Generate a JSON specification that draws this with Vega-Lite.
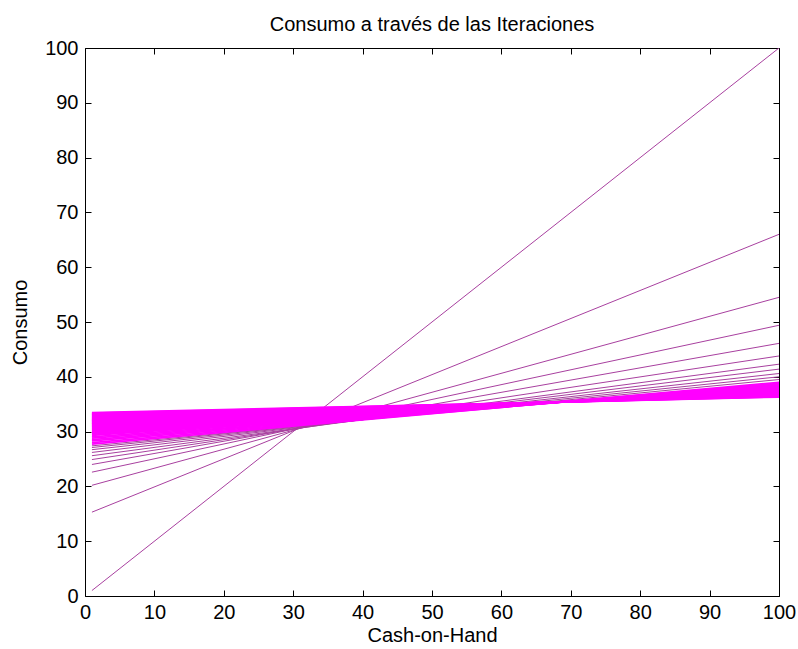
{
  "$schema": "https://vega.github.io/schema/vega-lite/v6.json",
  "width": 694,
  "height": 548,
  "autosize": "none",
  "padding": {"left": 85, "top": 48, "right": 19, "bottom": 53},
  "background": "white",
  "config": {
    "view": {"stroke": null},
    "axis": {
      "domainColor": "black", "domainWidth": 1,
      "tickColor": "black", "tickWidth": 1, "tickSize": -6,
      "labelColor": "black", "titleColor": "black",
      "labelFont": "Liberation Sans, Arial, sans-serif",
      "titleFont": "Liberation Sans, Arial, sans-serif",
      "labelFontSize": 20, "titleFontSize": 20, "titleFontWeight": "normal",
      "grid": false, "labelFlush": false, "labelOverlap": false
    }
  },
  "title": {
    "text": "Consumo a través de las Iteraciones",
    "font": "Liberation Sans, Arial, sans-serif",
    "fontSize": 20, "fontWeight": "normal", "color": "black",
    "anchor": "middle", "offset": 3
  },
  "data": {"values": [
    {"it": 1, "x": 1, "c": 1}, {"it": 1, "x": 100, "c": 100},
    {"it": 2, "x": 1, "c": 15.3}, {"it": 2, "x": 100, "c": 66.0},
    {"it": 3, "x": 1, "c": 20.2}, {"it": 3, "x": 100, "c": 54.5},
    {"it": 4, "x": 1, "c": 22.6}, {"it": 4, "x": 100, "c": 49.4},
    {"it": 5, "x": 1, "c": 24.0}, {"it": 5, "x": 100, "c": 46.1},
    {"it": 6, "x": 1, "c": 24.9}, {"it": 6, "x": 100, "c": 43.8},
    {"it": 7, "x": 1, "c": 25.6}, {"it": 7, "x": 100, "c": 42.3},
    {"it": 8, "x": 1, "c": 26.2}, {"it": 8, "x": 100, "c": 41.4},
    {"it": 9, "x": 1, "c": 26.7}, {"it": 9, "x": 100, "c": 40.6},
    {"it": 10, "x": 1, "c": 27.1}, {"it": 10, "x": 100, "c": 40.0},
    {"it": 11, "x": 1, "c": 27.4}, {"it": 11, "x": 100, "c": 39.5},
    {"it": 12, "x": 1, "c": 27.7}, {"it": 12, "x": 100, "c": 39.0},
    {"it": 13, "x": 1, "c": 28.0}, {"it": 13, "x": 100, "c": 38.8},
    {"it": 14, "x": 1, "c": 28.3}, {"it": 14, "x": 100, "c": 38.65},
    {"it": 15, "x": 1, "c": 28.55}, {"it": 15, "x": 100, "c": 38.55},
    {"it": 16, "x": 1, "c": 28.8}, {"it": 16, "x": 100, "c": 38.45},
    {"it": 17, "x": 1, "c": 29.05}, {"it": 17, "x": 100, "c": 38.35},
    {"it": 18, "x": 1, "c": 29.3}, {"it": 18, "x": 100, "c": 38.25},
    {"it": 19, "x": 1, "c": 29.5}, {"it": 19, "x": 100, "c": 38.15},
    {"it": 20, "x": 1, "c": 29.7}, {"it": 20, "x": 100, "c": 38.05},
    {"it": 21, "x": 1, "c": 29.9}, {"it": 21, "x": 100, "c": 37.97},
    {"it": 22, "x": 1, "c": 30.1}, {"it": 22, "x": 100, "c": 37.9},
    {"it": 23, "x": 1, "c": 30.25}, {"it": 23, "x": 100, "c": 37.83},
    {"it": 24, "x": 1, "c": 30.4}, {"it": 24, "x": 100, "c": 37.76},
    {"it": 25, "x": 1, "c": 30.55}, {"it": 25, "x": 100, "c": 37.69},
    {"it": 26, "x": 1, "c": 30.7}, {"it": 26, "x": 100, "c": 37.62},
    {"it": 27, "x": 1, "c": 30.85}, {"it": 27, "x": 100, "c": 37.55},
    {"it": 28, "x": 1, "c": 31.0}, {"it": 28, "x": 100, "c": 37.48},
    {"it": 29, "x": 1, "c": 31.1}, {"it": 29, "x": 100, "c": 37.43},
    {"it": 30, "x": 1, "c": 31.25}, {"it": 30, "x": 100, "c": 37.37},
    {"it": 31, "x": 1, "c": 31.35}, {"it": 31, "x": 100, "c": 37.32},
    {"it": 32, "x": 1, "c": 31.45}, {"it": 32, "x": 100, "c": 37.27},
    {"it": 33, "x": 1, "c": 31.55}, {"it": 33, "x": 100, "c": 37.22},
    {"it": 34, "x": 1, "c": 31.65}, {"it": 34, "x": 100, "c": 37.17},
    {"it": 35, "x": 1, "c": 31.75}, {"it": 35, "x": 100, "c": 37.12},
    {"it": 36, "x": 1, "c": 31.85}, {"it": 36, "x": 100, "c": 37.08},
    {"it": 37, "x": 1, "c": 31.95}, {"it": 37, "x": 100, "c": 37.03},
    {"it": 38, "x": 1, "c": 32.05}, {"it": 38, "x": 100, "c": 36.98},
    {"it": 39, "x": 1, "c": 32.15}, {"it": 39, "x": 100, "c": 36.93},
    {"it": 40, "x": 1, "c": 32.25}, {"it": 40, "x": 100, "c": 36.88},
    {"it": 41, "x": 1, "c": 32.35}, {"it": 41, "x": 100, "c": 36.83},
    {"it": 42, "x": 1, "c": 32.45}, {"it": 42, "x": 100, "c": 36.78},
    {"it": 43, "x": 1, "c": 32.55}, {"it": 43, "x": 100, "c": 36.74},
    {"it": 44, "x": 1, "c": 32.65}, {"it": 44, "x": 100, "c": 36.69},
    {"it": 45, "x": 1, "c": 32.75}, {"it": 45, "x": 100, "c": 36.64},
    {"it": 46, "x": 1, "c": 32.85}, {"it": 46, "x": 100, "c": 36.59},
    {"it": 47, "x": 1, "c": 32.95}, {"it": 47, "x": 100, "c": 36.54},
    {"it": 48, "x": 1, "c": 33.05}, {"it": 48, "x": 100, "c": 36.5},
    {"it": 49, "x": 1, "c": 33.15}, {"it": 49, "x": 100, "c": 36.45},
    {"it": 50, "x": 1, "c": 33.25}, {"it": 50, "x": 100, "c": 36.4},
    {"it": 51, "x": 1, "c": 33.35}, {"it": 51, "x": 100, "c": 36.35},
    {"it": 52, "x": 1, "c": 33.45}, {"it": 52, "x": 100, "c": 36.3}
  ]},
  "resolve": {"axis": {"x": "independent", "y": "independent"}},
  "layer": [
    {
      "mark": {"type": "line", "clip": true},
      "encoding": {
        "x": {"field": "x", "type": "quantitative",
              "scale": {"domain": [0, 100], "nice": false},
              "axis": {"orient": "bottom", "values": [0,10,20,30,40,50,60,70,80,90,100],
                       "title": "Cash-on-Hand", "labelPadding": 12, "titlePadding": 3}},
        "y": {"field": "c", "type": "quantitative",
              "scale": {"domain": [0, 100], "nice": false},
              "axis": {"orient": "left", "values": [0,10,20,30,40,50,60,70,80,90,100],
                       "title": "Consumo", "labelPadding": 13, "titlePadding": 14}},
        "detail": {"field": "it", "type": "quantitative"},
        "color": {"condition": {"test": "datum.it >= 12", "value": "#ff00ff"}, "value": "#a8409f"},
        "strokeWidth": {"condition": {"test": "datum.it >= 12", "value": 1.8}, "value": 1}
      }
    },
    {
      "mark": {"type": "line", "opacity": 0},
      "encoding": {
        "x": {"field": "x", "type": "quantitative",
              "axis": {"orient": "top", "values": [0,10,20,30,40,50,60,70,80,90,100],
                       "labels": false, "title": null}},
        "y": {"field": "c", "type": "quantitative",
              "axis": {"orient": "right", "values": [0,10,20,30,40,50,60,70,80,90,100],
                       "labels": false, "title": null}},
        "detail": {"field": "it", "type": "quantitative"}
      }
    }
  ]
}
